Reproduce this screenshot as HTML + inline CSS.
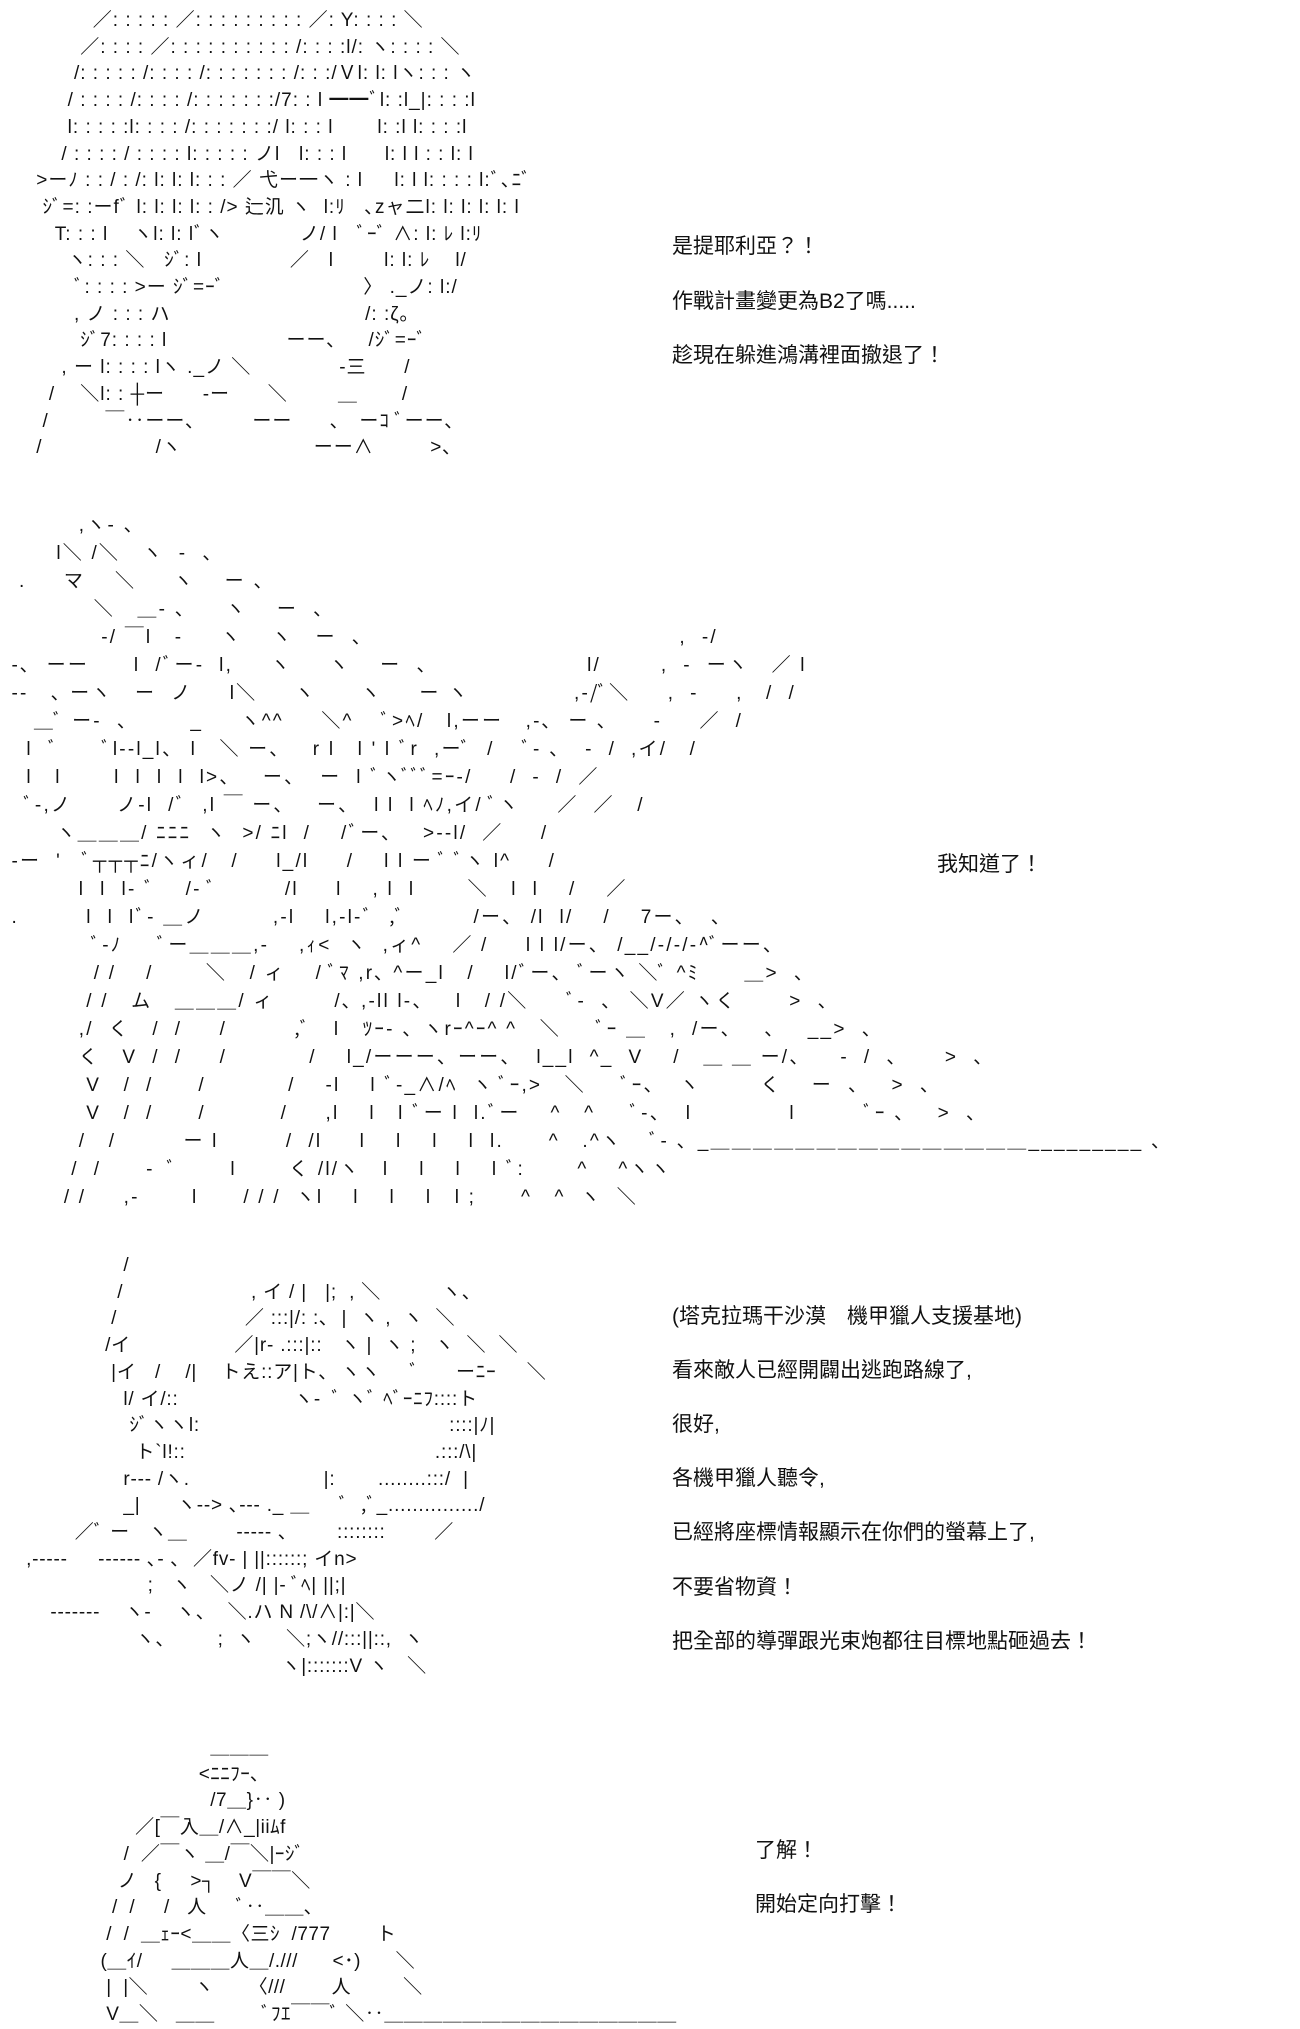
<!DOCTYPE html>
<html><head><meta charset="utf-8">
<style>
html,body{margin:0;padding:0;background:#fff;}
body{width:1300px;height:2000px;position:relative;overflow:hidden;font-family:"Liberation Sans","Noto Sans CJK JP",sans-serif;color:#000;}
pre{position:absolute;margin:0;font-family:"Liberation Sans","Noto Sans CJK JP",sans-serif;font-size:19px;line-height:26.7px;white-space:pre;color:#111;}
.t{position:absolute;font-family:"Liberation Sans","Noto Sans CJK TC",sans-serif;font-size:21px;color:#111;white-space:nowrap;}
</style></head><body>
<pre style="left:30px;top:8px;letter-spacing:1px;">          ／: : : : : ／: : : : : : : : : ／: Y: : : : ＼
        ／: : : : ／: : : : : : : : : : /: : : :l/: ヽ: : : : ＼
       /: : : : : /: : : : /: : : : : : : /: : :/Ｖl: l: lヽ: : : ヽ
      / : : : : /: : : : /: : : : : : :/7: : l ━━ﾞl: :l_|: : : :l
      l: : : : :l: : : : /: : : : : : :/ l: : : l       l: :l l: : : :l
     / : : : : / : : : : l: : : : : ノl   l: : : l      l: l l : : l: l
 >ーﾉ : : / : /: l: l: l: : : ／ 弋ー一ヽ : l     l: l l: : : : l:ﾞ､ﾆﾞ
  ｼﾞ=: :ーfﾞ l: l: l: l: : /> 辷㲹 ヽ  l:ﾘ   ､zャ二l: l: l: l: l: l
    T: : : l    ヽl: l: lﾞヽ            ノ/ l   ﾞｰﾞ ∧: l: ﾚ l:ﾘ
      ヽ: : : ＼   ｼﾞ: l              ／   l        l: l: ﾚ    l/
       ﾞ: : : : >ー ｼﾞ=ｰﾞ                      〉 ._ノ: l:/
       , ノ : : : ハ                               /: :ζ｡
        ｼﾞ7: : : : l                   ーー､     /ｼﾞ=ｰﾞ
     , ー l: : : : lヽ ._ノ ＼              -三      /
   /    ＼l: : ┼ー      -ー      ＼        ＿       /
  /         ￣‥ーー､         ーー      ､   ーｺ ﾞーー､
 /                  /ヽ                     ーー∧         >､</pre>

<div class="t" style="left:672px;top:230px;">是提耶利亞？！</div>
<div class="t" style="left:672px;top:285px;">作戰計畫變更為B2了嗎.....</div>
<div class="t" style="left:672px;top:339px;">趁現在躲進鴻溝裡面撤退了！</div>

<pre style="left:4px;top:512px;letter-spacing:2.2px;line-height:28px;">          ,ヽ- 、
       l＼ /＼   ヽ  -  、
  .     マ    ＼     ヽ    ー 、
            ＼   ＿- 、    ヽ    ー  、
             -/ ￣l   -     ヽ    ヽ   ー  、                                         ,  -/
 -､  ーー      l  /ﾞー-  l,     ヽ     ヽ    ー  、                    l/        ,  -  ーヽ   ／ l
 --   ､ ーヽ   ー  ノ     l＼     ヽ      ヽ     ー ヽ              ,-/ﾞ＼     ,  -     ,   /  /
    ＿ﾞ ー-  、       _     ヽ^^     ＼^    ﾞ>ﾍ/   l,ーー   ,-､  ー ､      -     ／  /
   l  ﾞ      ﾞl--l_l、 l   ＼ ー、   r l   l ' l ﾞr  ,ーﾞ  /    ﾞ- 、  -  /  ,イ/   /
   l   l       l  l  l  l  l>、   ー、  ー  l ﾞヽﾞﾞﾞ=ｰ-/     /  -  /  ／
   ﾞ-,ノ      ノ-l  /ﾞ  ,l ￣ ー、   ー、  l l  l ﾍﾉ,イ/ ﾞヽ     ／  ／   /
       ヽ＿＿＿/ ﾆﾆﾆ  ヽ  >/ ﾆl  /    /ﾞー､    >--l/  ／     /
 -ー  '   ﾞ┬┬┬ﾆ/ヽィ/   /     l_/l     /    l l ー ﾞ ﾞヽ l^     /
          l  l  l- ﾞ    /- ﾞ         /l     l    , l  l       ＼   l  l    /    ／
 .         l  l  lﾞ- ＿ノ         ,-l    l,-l-ﾞ  ,ﾞ         /ー、 /l  l/    /    7ー、  、
            ﾞ-ﾉ     ﾞー＿＿＿,-    ,ｨ<  ヽ  ,ィ^    ／ /     l l l/ー、 /__/-/-/-^ﾞーー、
            / /    /       ＼   / ィ    / ﾞﾏ ,r､ ^ー_l   /    l/ﾞー、 ﾞーヽ ＼ﾞ ^ﾐ      ＿>  、
           / /   ム   ＿＿＿/ ィ        /､ ,-ll l-、   l   / /＼     ﾞ-  、 ＼V／ ヽく       >  、
          ,/  く   /  /     /         ,ﾞ   l   ﾂｰ- 、ヽrｰ^ｰ^ ^   ＼     ﾞｰ ＿   ,  /ー、   、   __>  、
          く   V  /  /     /           /    l_/ーーー、ーー、  l__l  ^_  V    /   ＿ ＿ ー/、    -  /  、     >  、
           V   /  /      /           /    -l    l ﾞ-_∧/ﾍ  ヽ ﾞｰ,>   ＼     ﾞｰ、  ヽ        く    ー  、   >  、
           V   /  /      /          /     ,l    l   l ﾞー l  l.ﾞー    ^   ^     ﾞ-、  l             l         ﾞｰ 、   >  、
          /   /         ー l         /  /l     l    l    l    l  l.      ^   .^ヽ    ﾞ- 、_＿＿＿＿＿＿＿＿＿＿＿＿＿＿＿_________ 、
         /  /      -  ﾞ       l       く /l/ヽ   l    l    l    l ﾞ:       ^    ^ヽヽ
        / /     ,-       l      / / /  ヽl    l    l    l   l ;      ^   ^  ヽ  ＼</pre>
<div class="t" style="left:937px;top:848px;">我知道了！</div>

<pre style="left:20px;top:1253px;letter-spacing:0.8px;">                 /
                /                     , イ / |   |;  , ＼          ヽ、
               /                     ／ :::|/: :､  |  ヽ ,  ヽ  ＼
              /イ                 ／|r‐ .:::|::   ヽ |  ヽ ;   ヽ  ＼  ＼
               |イ   /    /|    トえ::ア|ト､  ヽヽ     ﾞ      ーﾆｰ     ＼
                 l/ イ/::                   ヽ-  ﾞ ヽﾞ ﾍﾞｰﾆﾌ::::ト
                  ｼﾞヽヽl:                                         ::::|ﾉ|
                   ト`l!::                                         .:::/\|
                 r‐‐‐ /ヽ.                      |:       ........:::/  |
                 _|      ヽ‐‐> ､‐‐‐ ._ ＿     ﾞ  ,ﾞ_.............../
         ／ﾞ ー   ヽ＿        ‐‐‐‐‐ ､        ::::::::        ／
 ,‐‐‐‐‐     ‐‐‐‐‐‐ ､‐ ､  ／fv‐ | ||::::::; イn>
                     ;   ヽ   ＼ノ /| |‐ ﾞﾍ| ||;|
     ‐‐‐‐‐‐‐    ヽ‐    ヽ、  ＼.ハ N /\/∧|:|＼
                   ヽ、       ;  ヽ     ＼;ヽ//:::||::,  ヽ
                                           ヽ|:::::::V ヽ   ＼</pre>

<div class="t" style="left:672px;top:1300px;">(塔克拉瑪干沙漠　機甲獵人支援基地)</div>
<div class="t" style="left:672px;top:1354px;">看來敵人已經開闢出逃跑路線了,</div>
<div class="t" style="left:672px;top:1408px;">很好,</div>
<div class="t" style="left:672px;top:1462px;">各機甲獵人聽令,</div>
<div class="t" style="left:672px;top:1516px;">已經將座標情報顯示在你們的螢幕上了,</div>
<div class="t" style="left:672px;top:1571px;">不要省物資！</div>
<div class="t" style="left:672px;top:1625px;">把全部的導彈跟光束炮都往目標地點砸過去！</div>

<pre style="left:60px;top:1735px;letter-spacing:0.5px;">                          ＿＿＿
                        <ﾆﾆﾌｰ､
                          /7＿}‥ )
             ／[￣入＿/∧_|iiﾑf
           /  ／￣ヽ ＿/￣＼|ｰｼﾞ
          ノ   {     >┐    V￣￣＼
         /  /     /   人     ﾞ‥＿＿､
        /  /  ＿ｪｰ<＿＿〈三ｼ  /777        ト
       (＿ｲ/     ＿＿＿人＿/.///      <･)      ＼
        |  |＼        ヽ      〈///        人         ＼
        V＿＼   ＿＿        ﾞﾌｴ￣￣ﾞ ＼‥＿＿＿＿＿＿＿＿＿＿＿＿＿＿＿</pre>

<div class="t" style="left:755px;top:1834px;">了解！</div>
<div class="t" style="left:755px;top:1888px;">開始定向打擊！</div>
</body></html>
